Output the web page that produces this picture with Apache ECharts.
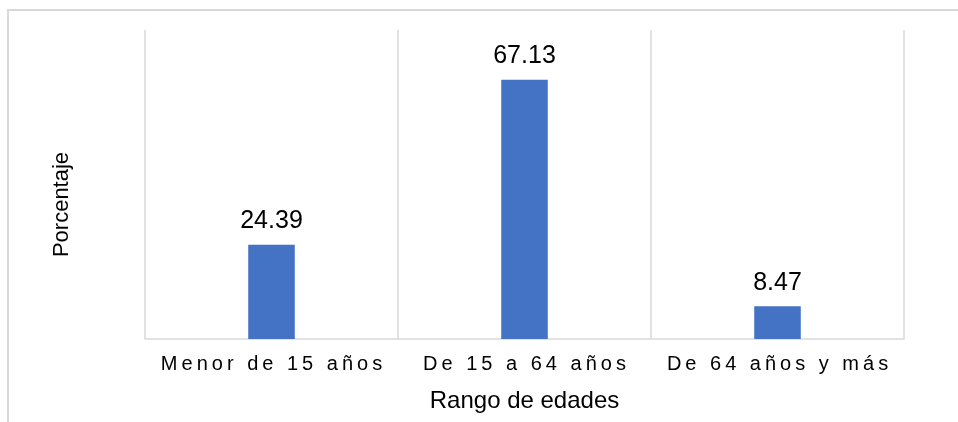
<!DOCTYPE html>
<html>
<head>
<meta charset="utf-8">
<script src="https://cdn.jsdelivr.net/npm/echarts@6/dist/echarts.min.js"></script>
<style>
  html, body { margin: 0; padding: 0; background: #fff; }
  #chart { width: 958px; height: 422px; }
</style>
</head>
<body>
<div id="chart"></div>
<script>
// datos
const categorias = ['Menor de 15 años', 'De 15 a 64 años', 'De 64 años y más']
const porcentajes = [24.39, 67.13, 8.47]
const yMin = 0
const yMax = 80

const fuente = '"Liberation Sans", Arial, sans-serif'
const gris = '#d9d9d9'

// espaciado entre letras (simulado con espacio fino)
const espaciar = (txt, sep) => Array.from(txt).join(sep)

const chart = echarts.init(document.getElementById('chart'))

const option = {
  backgroundColor: '#fff',
  animation: false,
  graphic: [
    {
      type: 'rect',
      shape: { x: 8, y: 10, width: 1000, height: 500 },
      style: { fill: 'none', stroke: gris, lineWidth: 2 },
      silent: true
    }
  ],
  grid: {
    left: 145,
    right: 54,
    top: 30,
    bottom: 83,
    containLabel: false
  },
  xAxis: {
    type: 'category',
    data: categorias,
    name: 'Rango de edades',
    nameLocation: 'middle',
    nameGap: 50,
    nameTextStyle: { fontFamily: fuente, fontSize: 24, color: '#000' },
    axisLine: { show: true, lineStyle: { color: gris, width: 1.5 } },
    axisTick: { show: false },
    axisLabel: {
      interval: 0,
      hideOverlap: false,
      margin: 15,
      fontFamily: fuente,
      fontSize: 20,
      color: '#000',
      formatter: (v) => espaciar(v, '\u2009')
    },
    splitLine: { show: true, interval: 0, lineStyle: { color: gris, width: 1.5 } }
  },
  yAxis: {
    type: 'value',
    min: yMin,
    max: yMax,
    name: 'Porcentaje',
    nameLocation: 'middle',
    nameGap: 72,
    nameTextStyle: { fontFamily: fuente, fontSize: 22, color: '#000', padding: [0, 40, 0, 0] },
    axisLine: { show: false },
    axisTick: { show: false },
    axisLabel: { show: false },
    splitLine: { show: false }
  },
  series: [
    {
      type: 'bar',
      data: porcentajes,
      barWidth: '18.4%',
      itemStyle: { color: '#4472C4' },
      label: {
        show: true,
        position: 'top',
        distance: 11,
        fontFamily: fuente,
        fontSize: 25,
        color: '#000',
        formatter: (p) => p.value.toFixed(2)
      }
    }
  ]
}

chart.setOption(option)
</script>
</body>
</html>
